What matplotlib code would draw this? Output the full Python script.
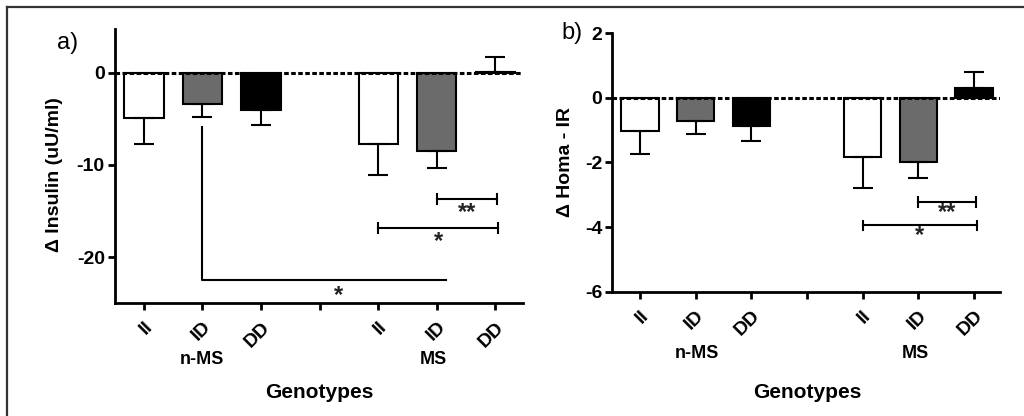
import matplotlib.pyplot as plt
from matplotlib.lines import Line2D
import numpy as np

plt.rcParams['font.family'] = ['Liberation Sans', 'DejaVu Sans']
plt.rcParams['axes.unicode_minus'] = False

# positions 1-3 = n-MS, 5-7 = MS (4 is the gap)
positions = [1, 2, 3, 5, 6, 7]
genotypes = ['II', 'ID', 'DD', 'II', 'ID', 'DD']
bar_colors = ['white', '#6b6b6b', 'black', 'white', '#6b6b6b', 'black']

# a) delta insulin (uU/ml): mean and one-sided error
insulin_mean = [-4.9, -3.35, -4.05, -7.75, -8.45, 0.1]
insulin_err = [2.8, 1.45, 1.65, 3.35, 1.9, 1.6]

# b) delta HOMA-IR
homa_mean = [-1.03, -0.72, -0.88, -1.83, -1.98, 0.3]
homa_err = [0.72, 0.41, 0.44, 0.96, 0.5, 0.49]

# significance brackets: (x from, x to, y level, label)
insulin_brackets = [(6, 7.03, -13.7, '**'), (5, 7.05, -16.85, '*')]
homa_brackets = [(6, 7.04, -3.22, '**'), (5, 7.05, -3.94, '*')]

fig = plt.figure(figsize=(10.24, 4.16), dpi=100)

# outer frame (left and top edges visible)
fig.add_artist(Line2D([7/1024, 7/1024], [0, 1 - 7/416], color='#333333', lw=1.6))
fig.add_artist(Line2D([7/1024, 1], [1 - 7/416, 1 - 7/416], color='#333333', lw=1.6))


def draw_panel(ax, means, errs, ylim, yticks, brackets, star_dy):
    means = np.array(means)
    errs = np.array(errs)
    ax.bar(positions, means, width=0.67, color=bar_colors, edgecolor='black',
           linewidth=1.5, zorder=2)
    lower = np.where(means < 0, errs, 0)
    upper = np.where(means >= 0, errs, 0)
    ax.errorbar(positions, means, yerr=[lower, upper], fmt='none', ecolor='black',
                elinewidth=1.5, capsize=7, capthick=1.5, zorder=3)
    ax.axhline(0, color='black', lw=2.2, ls=(0, (1.5, 0.8)), zorder=4)
    ax.set_xlim(0.5, 7.47)
    ax.set_ylim(*ylim)
    ax.set_yticks(yticks)
    ax.set_xticks([1, 2, 3, 4, 5, 6, 7])
    ax.set_xticklabels(genotypes[:3] + [''] + genotypes[3:], rotation=45,
                       ha='right', va='top', rotation_mode='anchor',
                       fontsize=14, fontweight='bold')
    for lab in ax.get_yticklabels():
        lab.set_fontsize(14)
        lab.set_fontweight('bold')
    for s in ['top', 'right']:
        ax.spines[s].set_visible(False)
    for s in ['left', 'bottom']:
        ax.spines[s].set_linewidth(2)
    ax.tick_params(axis='both', direction='out', width=2, length=5)
    ax.tick_params(axis='x', pad=6)
    ax.tick_params(axis='y', pad=2)
    # significance brackets with end caps
    for x0, x1, yb, lab in brackets:
        ax.plot([x0, x1], [yb, yb], color='black', lw=1.5)
        h = (ylim[1] - ylim[0]) * 0.018
        ax.plot([x0, x0], [yb - h, yb + h], color='black', lw=1.5)
        ax.plot([x1, x1], [yb - h, yb + h], color='black', lw=1.5)
        ax.text((x0 + x1) / 2, yb - star_dy, lab, ha='center', va='center',
                fontsize=17, fontweight='bold', color='#222222')


ax_a = fig.add_axes([0.1119, 0.2709, 0.3988, 0.6587])
draw_panel(ax_a, insulin_mean, insulin_err, (-25, 4.7), [0, -10, -20],
           insulin_brackets, 1.5)
# long comparison line between n-MS ID and MS ID
ax_a.plot([2, 2, 6.15], [-5.85, -22.5, -22.5], color='black', lw=1.5)
ax_a.text(4.33, -24.2, '*', ha='center', va='center', fontsize=17,
          fontweight='bold', color='#222222')
ax_a.set_ylabel('Δ Insulin (uU/ml)', fontsize=14, fontweight='bold')
ax_a.yaxis.set_label_coords(-0.126, 0.47)
fig.text(57/1024, 1 - 43/416, 'a)', fontsize=17, ha='left', va='center')
fig.text(202/1024, 1 - 360/416, 'n-MS', fontsize=13, fontweight='bold', ha='center', va='center')
fig.text(433/1024, 1 - 360/416, 'MS', fontsize=13, fontweight='bold', ha='center', va='center')
fig.text(319/1024, 1 - 392/416, 'Genotypes', fontsize=15, fontweight='bold', ha='center', va='center')

ax_b = fig.add_axes([0.5977, 0.2988, 0.3789, 0.6212])
draw_panel(ax_b, homa_mean, homa_err, (-6, 2), [2, 0, -2, -4, -6],
           homa_brackets, 0.33)
ax_b.set_ylabel('Δ Homa - IR', fontsize=14, fontweight='bold')
ax_b.yaxis.set_label_coords(-0.098, 0.5)
fig.text(572/1024, 1 - 33/416, 'b)', fontsize=17, ha='center', va='center')
fig.text(697/1024, 1 - 353/416, 'n-MS', fontsize=13, fontweight='bold', ha='center', va='center')
fig.text(915/1024, 1 - 353/416, 'MS', fontsize=13, fontweight='bold', ha='center', va='center')
fig.text(807/1024, 1 - 392/416, 'Genotypes', fontsize=15, fontweight='bold', ha='center', va='center')

fig.savefig('out.png', dpi=100)
